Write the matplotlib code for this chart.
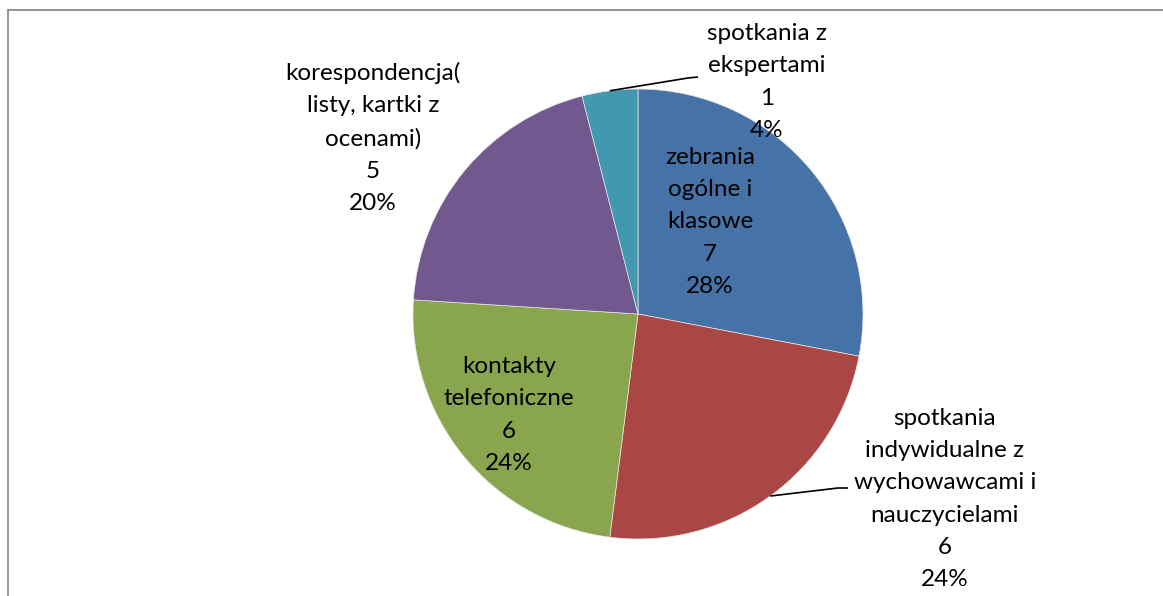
import numpy as np
import matplotlib
matplotlib.use("Agg")
import matplotlib.pyplot as plt
from matplotlib.patches import Rectangle

labels = ["zebrania\nogólne i\nklasowe",
          "spotkania\nindywidualne z\nwychowawcami i\nnauczycielami",
          "kontakty\ntelefoniczne",
          "korespondencja(\nlisty, kartki z\nocenami)",
          "spotkania z\nekspertami"]
values = [7, 6, 6, 5, 1]
colors = ["#4572A7", "#AA4643", "#89A54E", "#71588F", "#4198AF"]

W, H = 1163, 596
fig = plt.figure(figsize=(W / 100, H / 100), dpi=100)
plt.rcParams['font.family'] = ['Lato', 'DejaVu Sans']

cx, cy, R = 638, 314, 225
ax = fig.add_axes([(cx - R) / W, (H - cy - R) / H, 2 * R / W, 2 * R / H])
wedges, _ = ax.pie(values, colors=colors, startangle=90, counterclock=False,
                   wedgeprops=dict(edgecolor="#e8e8e8", linewidth=0.5))
ax.set_xlim(-1, 1)
ax.set_ylim(-1, 1)
ax.set_aspect("equal")
ax.axis("off")

def d(px, py):
    return ((px - cx) / R, (cy - py) / R)

total = sum(values)
# label centres in pixels (layout)
label_pos = [(710, 222), (945, 499), (509, 415), (373, 138), (767, 82)]
# leader elbows (pixels) for outside labels: index -> (elbow, end)
leaders = {1: ((838, 488), (848, 488)), 4: ((688, 78), (698, 77))}

for i, (w, lab, v) in enumerate(zip(wedges, labels, values)):
    pct = round(100 * v / total)
    txt = f"{lab}\n{v}\n{pct}%"
    x, y = d(*label_pos[i])
    ax.text(x, y, txt, ha="center", va="center", fontsize=17.5,
            linespacing=1.66, color="black", clip_on=False)
    if i in leaders:
        ang = np.deg2rad((w.theta1 + w.theta2) / 2)
        sx, sy = np.cos(ang), np.sin(ang)
        (e1, e2) = leaders[i]
        ex, ey = d(*e1)
        fx, fy = d(*e2)
        ax.plot([sx, ex, fx], [sy, ey, fy], color="black", lw=1.2,
                clip_on=False, solid_capstyle="butt")

fig.patches.append(Rectangle((8 / W, -0.05), 1.2, (H - 10) / H + 0.05,
                             transform=fig.transFigure, fill=False,
                             edgecolor="#8c8c8c", linewidth=1.3))
fig.savefig("out.png", dpi=100)
